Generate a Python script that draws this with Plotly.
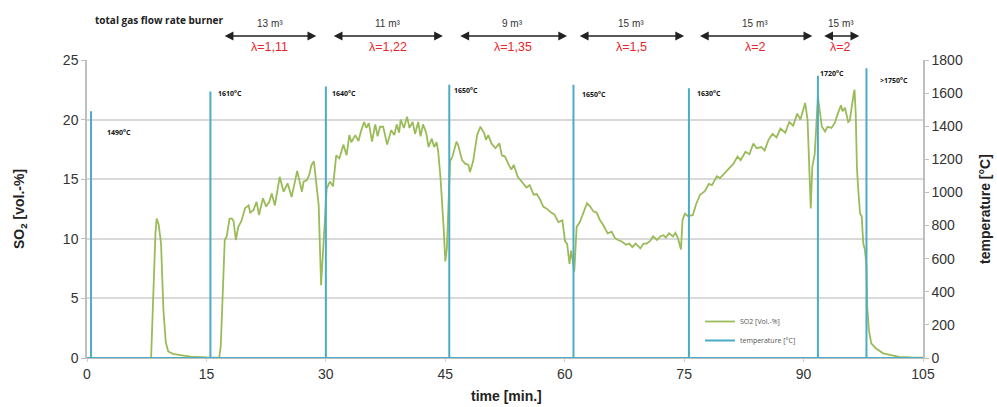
import plotly.graph_objects as go

# ---------------- data ----------------
so2_time = [0, 8.0, 8.05, 8.6, 8.75, 9.0, 9.2, 9.3, 9.6, 9.9, 10.2, 10.8, 11.7, 13.0, 15.0, 16.6,
            16.8, 17.05, 17.3, 17.55, 17.9, 18.2, 18.4, 18.7, 19.0, 19.4, 19.85, 20.3, 20.5, 20.9,
            21.3, 21.6, 22.1, 22.5, 22.9, 23.2, 23.6, 24.2, 24.7, 25.2, 25.7, 26.4, 27.0, 27.2,
            27.6, 27.9, 28.2, 28.5, 28.8, 29.1, 29.4, 29.8, 30.1, 30.5, 30.9, 31.3, 31.7, 32.2,
            32.6, 32.95, 33.2, 33.7, 34.1, 34.4, 34.8, 35.1, 35.4, 35.8, 36.2, 36.5, 36.8, 37.2,
            37.7, 38.2, 38.6, 38.9, 39.2, 39.4, 39.8, 40.2, 40.5, 40.9, 41.2, 41.6, 41.9, 42.2,
            42.6, 42.9, 43.3, 43.6, 43.9, 44.1, 44.4, 44.8, 45.0, 45.2, 45.4, 45.6, 45.9, 46.4,
            46.6, 47.1, 47.5, 47.9, 48.1, 48.5, 49.0, 49.4, 49.9, 50.1, 50.4, 50.8, 51.3, 51.8,
            52.1, 52.5, 52.9, 53.3, 53.6, 54.1, 54.6, 55.2, 55.6, 56.1, 56.5, 56.9, 57.3, 57.9,
            58.3, 58.7, 59.2, 59.7, 60.05, 60.3, 60.6, 60.8, 61.0, 61.2, 61.5, 61.9, 62.3, 62.8,
            63.2, 63.6, 64.0, 64.4, 64.8, 65.4, 65.9, 66.3, 66.7, 67.1, 67.7, 68.1, 68.5, 68.9,
            69.5, 69.9, 70.3, 70.7, 71.1, 71.6, 72.0, 72.4, 72.7, 73.1, 73.6, 73.9, 74.2, 74.4,
            74.6, 74.8, 75.1, 75.5, 76.1, 76.5, 77.0, 77.6, 78.1, 78.5, 79.1, 79.5, 80.2, 80.7,
            81.2, 81.7, 82.1, 82.7, 83.2, 83.7, 84.1, 84.7, 85.1, 85.6, 86.1, 86.6, 87.1, 87.7,
            88.2, 88.7, 89.2, 89.6, 90.2, 90.5, 90.7, 90.9, 91.1, 91.4, 91.8, 92.3, 92.7, 93.0,
            93.5, 93.9, 94.3, 94.7, 94.9, 95.2, 95.6, 95.8, 96.3, 96.4, 96.55, 96.7, 96.9, 97.1,
            97.3, 97.5, 97.7, 97.9, 98.0, 98.2, 98.5, 99.1, 100.0, 101.2, 102.0, 103.5, 105.0]
so2_value = [0, 0, 0, 10.5, 11.7, 11.2, 9.8, 9.6, 4.0, 1.3, 0.55, 0.35, 0.25, 0.12, 0.05, 0.02,
             1.0, 5.3, 9.9, 10.2, 11.7, 11.7, 11.5, 9.9, 11.0, 11.5, 12.56, 12.8, 12.2, 12.4,
             13.1, 12.0, 13.4, 12.7, 13.1, 13.8, 12.8, 15.2, 13.95, 14.65, 13.5, 15.7, 13.95, 14.8,
             14.9, 15.35, 16.2, 16.5, 14.8, 12.8, 6.1, 11.2, 14.2, 14.8, 14.4, 17.0, 16.75, 17.9,
             17.0, 18.7, 18.1, 18.7, 18.2, 19.0, 19.8, 19.3, 19.7, 18.15, 19.6, 18.6, 19.4, 19.4,
             17.9, 19.1, 18.7, 19.6, 18.9, 20.0, 19.3, 20.25, 19.3, 19.8, 18.8, 19.8, 18.6, 19.6,
             18.9, 17.7, 18.4, 17.7, 18.1, 17.4, 15.1, 10.9, 8.1, 9.2, 12.3, 16.5, 16.9, 18.15,
             17.9, 16.6, 16.3, 16.2, 15.6, 16.5, 18.7, 19.4, 18.85, 18.3, 18.7, 18.0, 17.6, 18.0,
             17.0, 16.9, 16.3, 15.8, 16.2, 15.2, 14.8, 14.3, 14.5, 13.7, 13.75, 13.3, 12.7, 12.45,
             12.2, 12.05, 11.4, 11.55, 9.76, 9.6, 7.9, 9.0, 8.2, 7.25, 11.0, 11.4, 12.1, 12.98,
             12.7, 12.3, 12.2, 11.6, 11.2, 10.46, 10.6, 10.07, 9.9, 9.8, 9.5, 9.6, 9.3, 9.6,
             9.2, 9.6, 9.6, 9.8, 10.2, 9.9, 10.2, 10.3, 10.1, 10.46, 10.2, 10.5, 10.1, 9.5,
             9.1, 11.6, 12.1, 11.9, 12.0, 12.9, 13.7, 14.0, 14.6, 14.5, 15.25, 15.1, 15.6, 15.9,
             16.3, 16.9, 16.6, 17.3, 17.1, 18.0, 17.6, 17.7, 17.4, 18.3, 18.8, 18.5, 19.25, 18.9,
             19.8, 19.5, 20.5, 20.0, 21.4, 20.0, 16.05, 12.55, 16.05, 17.1, 21.9, 19.4, 19.0, 19.4,
             19.3, 19.7, 20.5, 21.2, 20.7, 21.0, 19.8, 19.9, 22.2, 22.5, 20.5, 16.0, 13.8, 12.1,
             11.9, 9.6, 9.1, 7.7, 4.3, 2.35, 1.23, 0.8, 0.39, 0.2, 0.1, 0.05, 0.03]

temp_time = [0.5, 15.5, 30.0, 45.5, 61.1, 75.6, 91.8, 97.9]
temp_value = [1490, 1610, 1640, 1650, 1650, 1630, 1705, 1750]
temp_label = ["1490°C", "1610°C", "1640°C", "1650°C", "1650°C", "1630°C", "1720°C", ">1750°C"]
temp_label_x = [2.3, 16.2, 30.5, 45.9, 61.9, 76.4, 91.8, 99.4]
temp_label_y = [0.758, 0.886, 0.886, 0.899, 0.883, 0.886, 0.956, 0.93]

flow_start = [17.1, 30.8, 46.7, 61.7, 76.8, 92.4]
flow_end = [28.8, 44.7, 60.3, 75.0, 91.1, 97.0]
flow_label = ["13 m³", "11 m³", "9 m³", "15 m³", "15 m³", "15 m³"]
lambda_label = ["λ=1,11", "λ=1,22", "λ=1,35", "λ=1,5", "λ=2", "λ=2"]

x_ticks = [0, 15, 30, 45, 60, 75, 90, 105]
y_ticks = [0, 5, 10, 15, 20, 25]
y2_ticks = list(range(0, 1801, 200))

GREEN = "#9bbb59"
CYAN = "#4bacc6"
GRID = "#d9d9d9"
FONT = "Liberation Sans"

# temperature series: baseline at 0 with a vertical spike at each reading
tx, ty = [0], [0]
for t, v in zip(temp_time, temp_value):
    tx += [t, t, t]
    ty += [0, v, 0]
tx.append(105)
ty.append(0)

fig = go.Figure()
fig.add_trace(go.Scatter(x=so2_time, y=so2_value, mode="lines", name="SO2 [Vol.-%]",
                         line=dict(color=GREEN, width=1.8), yaxis="y"))
fig.add_trace(go.Scatter(x=tx, y=ty, mode="lines", name="temperature [°C]",
                         line=dict(color=CYAN, width=2), yaxis="y2"))

ann = []
for lx, ly, lt in zip(temp_label_x, temp_label_y, temp_label):
    ann.append(dict(x=lx, y=ly, xref="x", yref="paper", text="<b>" + lt + "</b>", showarrow=False,
                    xanchor="left", yanchor="middle",
                    font=dict(family="Open Sans", size=7, color="#111")))

for s, e, fl, lam in zip(flow_start, flow_end, flow_label, lambda_label):
    ann.append(dict(x=e, y=1.0805, xref="x", yref="paper", ax=s, ay=0, axref="x", ayref="pixel",
                    text="", showarrow=True, arrowhead=2, arrowside="end+start",
                    arrowsize=1.1, arrowwidth=1.6, arrowcolor="#222"))
    mid = (s + e) / 2
    ann.append(dict(x=mid, y=1.121, xref="x", yref="paper", text=fl, showarrow=False,
                    xanchor="center", yanchor="middle",
                    font=dict(family=FONT, size=10, color="#333")))
    ann.append(dict(x=mid, y=1.0436, xref="x", yref="paper", text=lam, showarrow=False,
                    xanchor="center", yanchor="middle",
                    font=dict(family=FONT, size=12.5, color="#e8262a")))

ann.append(dict(x=(93 - 87) / 836, y=1.134, xref="paper", yref="paper",
                text="<b>total gas flow rate burner</b>", showarrow=False,
                xanchor="left", yanchor="middle",
                font=dict(family="Open Sans", size=10, color="#222")))

# axis titles
ann.append(dict(x=(20 - 87) / 836, y=0.5, xref="paper", yref="paper", textangle=-90,
                text="<b>SO<sub>2</sub> [vol.-%]</b>", showarrow=False,
                xanchor="center", yanchor="middle",
                font=dict(family=FONT, size=14, color="#222")))
ann.append(dict(x=(985 - 87) / 836, y=0.5, xref="paper", yref="paper", textangle=-90,
                text="<b>temperature [°C]</b>", showarrow=False,
                xanchor="center", yanchor="middle",
                font=dict(family=FONT, size=14, color="#222")))
ann.append(dict(x=(506 - 87) / 836, y=(358 - 396) / 298, xref="paper", yref="paper",
                text="<b>time [min.]</b>", showarrow=False,
                xanchor="center", yanchor="middle",
                font=dict(family=FONT, size=14, color="#222")))

fig.update_layout(
    width=997, height=407,
    margin=dict(l=87, r=74, t=60, b=49),
    paper_bgcolor="white", plot_bgcolor="white",
    font=dict(family=FONT, size=14, color="#333"),
    showlegend=True,
    legend=dict(x=(700 - 87) / 836, y=(358 - 307) / 298, xanchor="left", yanchor="top",
                bgcolor="rgba(0,0,0,0)", font=dict(family="Open Sans", size=7, color="#555"),
                tracegroupgap=0),
    xaxis=dict(range=[0, 105], tickvals=x_ticks, showgrid=False, zeroline=False,
               showline=True, linecolor="#bfbfbf", ticks="outside", ticklen=3, tickcolor="#d0d0d0",
               tickfont=dict(size=14, color="#333")),
    yaxis=dict(range=[0, 25], tickvals=y_ticks, showgrid=True, gridcolor=GRID, gridwidth=1.5,
               zeroline=False, showline=True, linecolor="#bfbfbf", linewidth=1.5,
               ticks="outside", ticklen=4, tickcolor="#bfbfbf",
               tickfont=dict(size=14, color="#333")),
    yaxis2=dict(range=[0, 1800], tickvals=y2_ticks, overlaying="y", side="right",
                showgrid=False, zeroline=False, showline=True, linecolor="#bfbfbf", linewidth=1.5,
                ticks="outside", ticklen=4, tickcolor="#bfbfbf",
                tickfont=dict(size=14, color="#333")),
    annotations=ann,
)

fig.write_html("out.html")
